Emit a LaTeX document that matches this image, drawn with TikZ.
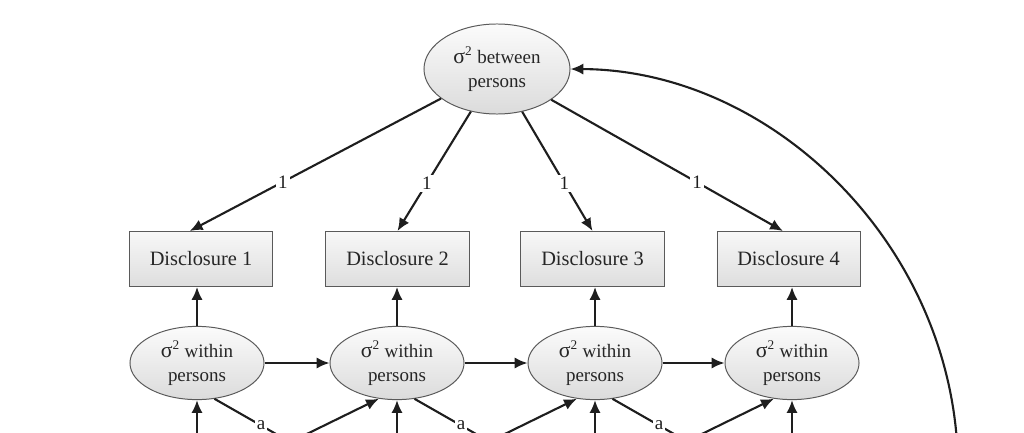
\documentclass[tikz,border=0pt]{standalone}
\usepackage{fontspec}
\setmainfont{Liberation Serif}
\usetikzlibrary{arrows.meta,shapes.geometric}
\definecolor{linegray}{HTML}{1E1E1E}
\definecolor{edgegray}{HTML}{5A5A5A}
\newcommand{\sig}{{\fontsize{15.5}{15}\selectfont σ}\textsuperscript{2}}

\begin{document}
\begin{tikzpicture}[x=0.025cm,y=-0.025cm,
  varnode/.style = {draw=edgegray, ellipse, line width=0.7pt, top color=gray!3, bottom color=gray!28, inner sep=0pt, align=center, text=black!85, font=\fontsize{13.5}{17}\selectfont},
  withinvar/.style = {varnode, minimum width=3.35cm, minimum height=1.83cm},
  betweenvar/.style = {varnode, minimum width=3.65cm, minimum height=2.25cm},
  obsbox/.style = {draw=edgegray, rectangle, line width=0.7pt, top color=gray!6, bottom color=gray!26, minimum width=3.575cm, minimum height=1.375cm, text=black!85, font=\fontsize{14.5}{16}\selectfont},
  link/.style = {draw=linegray, line width=1.5pt, -{Latex[length=3.2mm,width=2.8mm]}},
  weight/.style = {fill=white, inner sep=1.5pt, text=linegray, font=\fontsize{13.5}{15}\selectfont}]
\useasboundingbox (0,0) rectangle (1024,433); \clip (0,0) rectangle (1024,433);
\node[betweenvar](btw) at (497,69) {\sig{} between\\persons};
\node[obsbox](d1) at (201,259) {Disclosure 1}; \node[obsbox](d2) at (397.5,259) {Disclosure 2}; \node[obsbox](d3) at (592.5,259) {Disclosure 3}; \node[obsbox](d4) at (788.5,259) {Disclosure 4};
\node[withinvar](w1) at (197,363) {\sig{} within\\persons}; \node[withinvar](w2) at (397,363) {\sig{} within\\persons};
\node[withinvar](w3) at (595,363) {\sig{} within\\persons}; \node[withinvar](w4) at (792,363) {\sig{} within\\persons};
\coordinate (u1) at (197,480); \coordinate (u2) at (397,480); \coordinate (u3) at (595,480); \coordinate (u4) at (792,480);
\coordinate (v2) at (217,478); \coordinate (v3) at (415,478); \coordinate (v4) at (612,478);
\coordinate (a1) at (360,482); \coordinate (a2) at (560,482); \coordinate (a3) at (758,482);
\coordinate (loop) at (958,470);
\draw[link] (btw) -- node[weight,pos=0.63]{1} ([xshift=-0.28cm]d1.north); \draw[link] (btw) -- node[weight,pos=0.6]{1} (d2.north);
\draw[link] (btw) -- node[weight,pos=0.6]{1} (d3.north); \draw[link] (btw) -- node[weight,pos=0.63]{1} ([xshift=-0.14cm]d4.north);
\draw[link] (w1) -- (w1 |- d1.south); \draw[link] (w2) -- (w2 |- d2.south); \draw[link] (w3) -- (w3 |- d3.south); \draw[link] (w4) -- (w4 |- d4.south);
\draw[link] (w1) -- (w2); \draw[link] (w2) -- (w3); \draw[link] (w3) -- (w4);
\draw[link] (u1) -- (w1); \draw[link] (u2) -- (w2); \draw[link] (u3) -- (w3); \draw[link] (u4) -- (w4);
\draw[link] (v2) -- (w2.-117); \draw[link] (v3) -- (w3.-117); \draw[link] (v4) -- (w4.-117);
\draw[link,-] (w1.-64) -- node[weight,pos=0.32]{a} (a1); \draw[link,-] (w2.-64) -- node[weight,pos=0.32]{a} (a2); \draw[link,-] (w3.-64) -- node[weight,pos=0.32]{a} (a3);
\draw[link] (loop) .. controls (958,250) and (775,70) .. (btw.east);
\end{tikzpicture}
\end{document}
